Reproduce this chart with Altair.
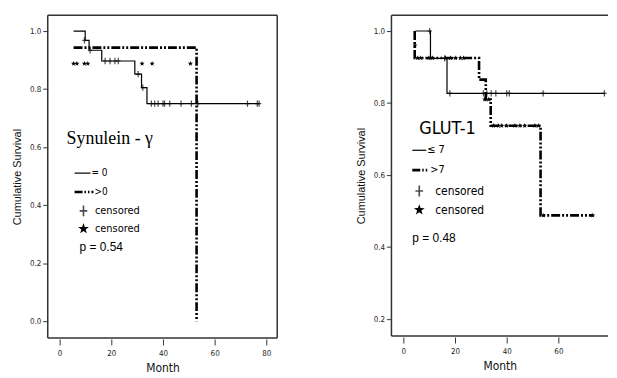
import altair as alt
import pandas as pd

# ---------------- data: left panel (Synulein-gamma) ----------------
L_solid_t = [5.4, 9.9, 11.4, 16.3, 29.1, 31.7, 33.8, 77.2]
L_solid_s = [1.0, 0.968, 0.934, 0.897, 0.852, 0.805, 0.75, 0.75]
L_dash_t = [5.4, 53.0, 53.0]
L_dash_s = [0.943, 0.943, 0.0]
L_cens_t = [9.6, 11.8, 17.6, 19.5, 21.4, 22.7, 30.4, 32.2, 35.5, 36.8, 38.1,
            40.0, 40.6, 42.6, 47.0, 51.0, 53.5, 72.7, 76.5, 77.2]
L_cens_s = [0.968, 0.934, 0.897, 0.897, 0.897, 0.897, 0.852, 0.805, 0.75, 0.75, 0.75,
            0.75, 0.75, 0.75, 0.75, 0.75, 0.75, 0.75, 0.75, 0.75]
L_star_t = [5.4, 6.7, 9.6, 10.9, 31.9, 35.8, 50.6]
L_star_s = [0.888, 0.888, 0.888, 0.888, 0.888, 0.888, 0.888]

# ---------------- data: right panel (GLUT-1) ----------------
R_solid_t = [4.7, 10.5, 16.9, 77.8]
R_solid_s = [1.0, 0.924, 0.827, 0.827]
R_dash_t = [4.4, 4.4, 29.3, 31.9, 33.8, 53.1, 73.3]
R_dash_s = [1.0, 0.925, 0.865, 0.81, 0.737, 0.488, 0.488]
R_cens_t = [10.2, 16.0, 18.0, 31.0, 32.3, 34.0, 35.8, 40.0, 41.0, 54.1, 77.8]
R_cens_s = [1.0, 0.924, 0.827, 0.827, 0.827, 0.827, 0.827, 0.827, 0.827, 0.827, 0.827]
R_star_t = [4.5, 5.4, 6.7, 9.9, 11.2, 16.3, 18.2, 20.1, 22.1, 23.3, 31.5, 33.0,
            34.9, 36.8, 38.1, 40.0, 43.2, 45.1, 47.0, 50.9, 52.2, 54.1, 73.3]
R_star_s = [0.96, 0.925, 0.925, 0.925, 0.925, 0.925, 0.925, 0.925, 0.925, 0.925, 0.81, 0.81,
            0.737, 0.737, 0.737, 0.737, 0.737, 0.737, 0.737, 0.737, 0.737, 0.488, 0.488]

L_x_ticks = [0, 20, 40, 60, 80]
R_x_ticks = [0, 20, 40, 60]
L_y_ticks = [0.0, 0.2, 0.4, 0.6, 0.8, 1.0]
R_y_ticks = [0.2, 0.4, 0.6, 0.8, 1.0]

STAR = ("M0,-1L0.235,-0.324L0.951,-0.309L0.38,0.124L0.588,0.809L0,0.4"
        "L-0.588,0.809L-0.38,0.124L-0.951,-0.309L-0.235,-0.324Z")
PLUS = "M0,-1L0,1M-0.7,0L0.7,0"
DASH = [9, 2, 2, 2, 2, 2]
TICKFONT = "Liberation Sans Narrow, DejaVu Sans Condensed, sans-serif"
TXTFONT = "Liberation Sans, Arial, sans-serif"
FRAME = "#333"


def df(t, s):
    return pd.DataFrame({"t": t, "s": s, "i": range(len(t))})


def vtext(text, x, y, size, font=TICKFONT):
    return alt.Chart().mark_text(text=text, font=font, fontSize=size, align="left",
                                 baseline="middle", color="black").encode(
        x=alt.value(x), y=alt.value(y))


def hrule(x0, x1, y, w=1.5, color=FRAME, dash=None):
    kw = dict(color=color, strokeWidth=w)
    if dash:
        kw["strokeDash"] = dash
    return alt.Chart().mark_rule(**kw).encode(x=alt.value(x0), x2=alt.value(x1),
                                              y=alt.value(y))


def vrule(x, y0, y1, w=1.5):
    return alt.Chart().mark_rule(color=FRAME, strokeWidth=w).encode(
        x=alt.value(x), y=alt.value(y0), y2=alt.value(y1))


def panel(solid, dash, cens, star, xdom, xticks, ydom, yticks, W, H, right_border,
          title, title_font, title_size, title_pos, leg, pval, lbl0, lbl1):
    xs = alt.Scale(domain=xdom, nice=False, zero=False)
    ys = alt.Scale(domain=ydom, nice=False, zero=False)
    xax = alt.X("t:Q", scale=xs, title="Month",
                axis=alt.Axis(values=xticks, format="d", domain=False, offset=1,
                              tickSize=6, labelPadding=5, labelFont=TICKFONT,
                              labelFontSize=8, titleFont=TICKFONT, titleFontSize=12,
                              titleFontWeight="normal", titlePadding=5, grid=False))
    yax = alt.Y("s:Q", scale=ys, title="Cumulative Survival",
                axis=alt.Axis(values=yticks, format=".1f", domain=False, tickSize=5,
                              labelPadding=2, labelFont=TICKFONT, labelFontSize=8,
                              titleFont=TXTFONT, titleFontSize=11,
                              titleFontWeight="normal", titlePadding=7, grid=False))
    l_solid = alt.Chart(df(*solid)).mark_line(interpolate="step-after", color="black",
                                               strokeWidth=1.2).encode(
        x=xax, y=yax, order="i:Q")
    l_dash = alt.Chart(df(*dash)).mark_line(interpolate="step-after", color="black",
                                             strokeWidth=2.6, strokeDash=DASH).encode(
        x="t:Q", y="s:Q", order="i:Q")
    p_cens = alt.Chart(df(*cens)).mark_point(shape=PLUS, size=40, color="black",
                                              strokeWidth=1.2, filled=False).encode(
        x="t:Q", y="s:Q")
    p_star = alt.Chart(df(*star)).mark_point(shape=STAR, size=30, color="black",
                                              filled=True, opacity=1).encode(
        x="t:Q", y="s:Q")
    frame = [hrule(0, W, 0), hrule(0, W, H), vrule(0, 0, H)]
    if right_border:
        frame.append(vrule(W, 0, H))
    tx, ty = title_pos
    lx0, lx1, fs = leg["lx0"], leg["lx1"], leg["fs"]
    legend = [
        vtext(title, tx, ty, title_size, title_font),
        hrule(lx0, lx1, leg["y_solid"], 1.2, "black"),
        hrule(lx0, lx1 + 3, leg["y_dash"], 2.6, "black", [8, 2, 1.5, 2, 1.5, 2]),
        vtext(lbl0, lx1 + 1, leg["y_solid"], fs),
        vtext(lbl1, lx1 + 4, leg["y_dash"], fs),
        alt.Chart().mark_point(shape=PLUS, size=120, color="black", strokeWidth=1.6,
                               filled=False).encode(x=alt.value(leg["sx"]),
                                                    y=alt.value(leg["y_plus"])),
        alt.Chart().mark_point(shape=STAR, size=130, color="black", filled=True,
                               opacity=1).encode(x=alt.value(leg["sx"]),
                                                 y=alt.value(leg["y_star"])),
        vtext("censored", leg["cx"], leg["y_plus"], fs + 1),
        vtext("censored", leg["cx"], leg["y_star"], fs + 1),
        vtext(pval, leg["px"], leg["py"], 12, TXTFONT),
    ]
    return alt.layer(l_solid, l_dash, p_cens, p_star, *frame, *legend).properties(
        width=W, height=H)


left = panel((L_solid_t, L_solid_s), (L_dash_t, L_dash_s), (L_cens_t, L_cens_s),
             (L_star_t, L_star_s), [-4.6, 84.2], L_x_ticks, [-0.058, 1.055], L_y_ticks,
             231, 325, True, "Synulein - γ", "Liberation Serif, DejaVu Serif, serif", 18,
             (19, 125),
             dict(lx0=27, lx1=43, y_solid=159, y_dash=178, sx=36, y_plus=197, y_star=215,
                  cx=47.5, px=32, py=233, fs=10),
             "p = 0.54", "= 0", ">0")
right = panel((R_solid_t, R_solid_s), (R_dash_t, R_dash_s), (R_cens_t, R_cens_s),
              (R_star_t, R_star_s), [-4.6, 79.2], R_x_ticks, [0.153, 1.044], R_y_ticks,
              218, 323, False, "GLUT-1", TICKFONT, 18, (28, 115),
              dict(lx0=21, lx1=35, y_solid=136, y_dash=156, sx=28, y_plus=177, y_star=196,
                   cx=44, px=21, py=224, fs=11),
              "p = 0.48", "≤ 7", ">7")

chart = alt.hconcat(left, right, spacing=77).properties(
    padding={"left": 3, "top": 5, "right": 0, "bottom": 0}
).configure_view(stroke=None).configure_axis(
    tickColor=FRAME, labelColor="#222", titleColor="#111")

chart.save("out.html", embed_options={"renderer": "svg", "actions": False})
